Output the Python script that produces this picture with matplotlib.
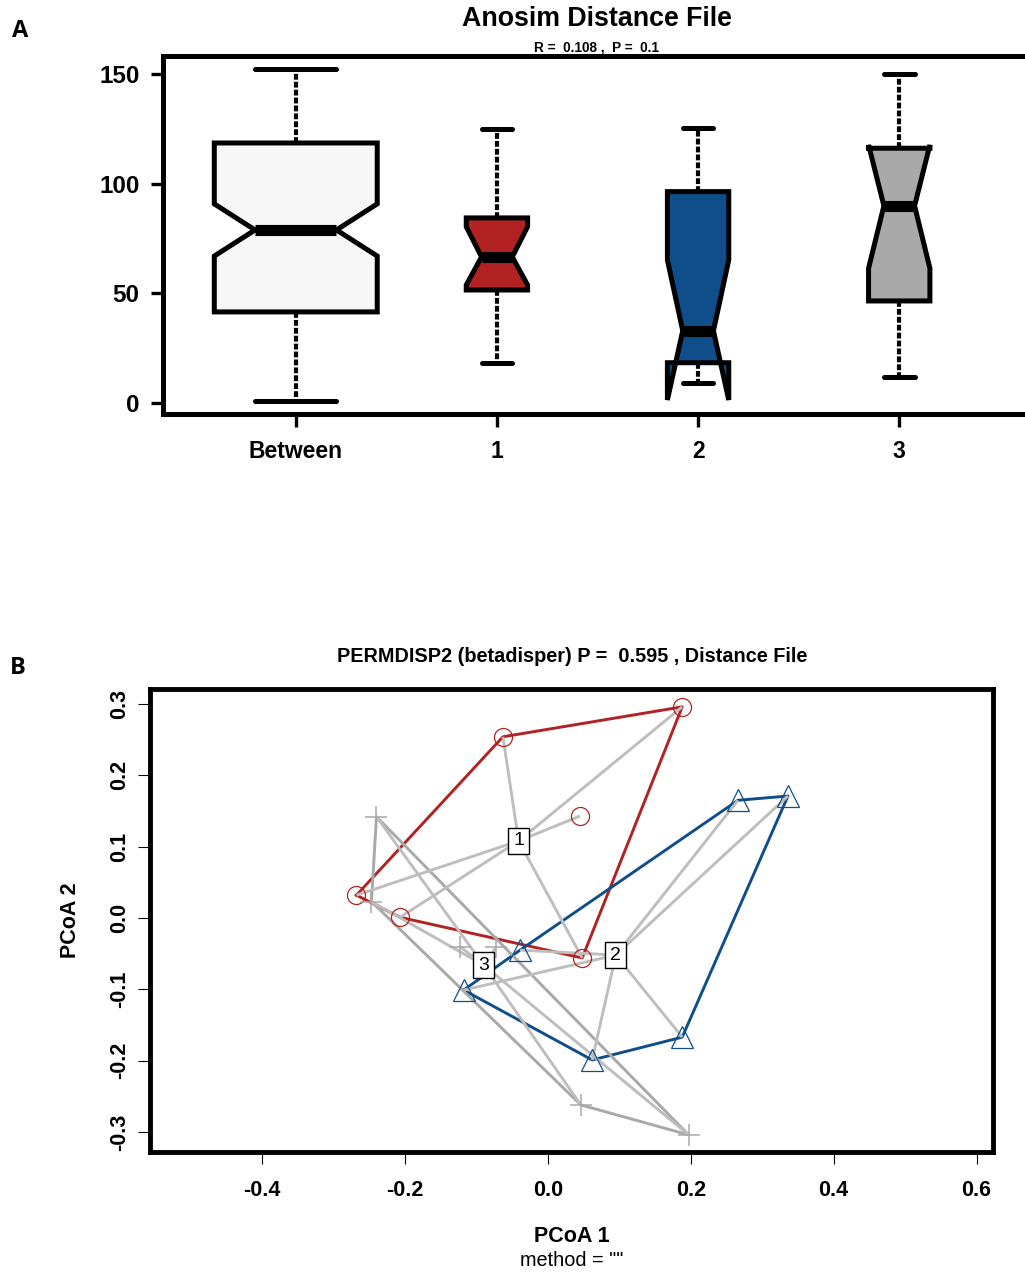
import numpy as np
import matplotlib
matplotlib.use("Agg")
import matplotlib.pyplot as plt

plt.rcParams['font.family'] = ['Liberation Sans', 'DejaVu Sans']

# ---------------- Panel A data (ANOSIM boxplot) ----------------
box_labels = ["Between", "1", "2", "3"]
box_whislo = [1.0, 18.3, 9.1, 12.0]
box_q1 = [41.6, 51.6, 18.4, 46.6]
box_med = [79.0, 66.7, 33.0, 90.0]
box_q3 = [118.7, 84.5, 96.5, 116.3]
box_whishi = [152.5, 125.1, 125.7, 150.1]
box_cilo = [67.1, 53.9, 1.4, 61.5]
box_cihi = [90.9, 80.5, 65.3, 117.8]
box_widths = [0.81, 0.305, 0.305, 0.305]
box_colors = ["#F7F7F7", "#B22222", "#104E8B", "#A9A9A9"]
anosim_R = "0.108"
anosim_P = "0.1"

# ---------------- Panel B data (PERMDISP2 / betadisper) ----------------
g1_x = [0.188, -0.063, 0.045, -0.268, -0.207, 0.048]
g1_y = [0.296, 0.254, 0.143, 0.032, 0.001, -0.056]
g2_x = [0.266, 0.336, -0.039, -0.118, 0.062, 0.188]
g2_y = [0.165, 0.171, -0.045, -0.101, -0.199, -0.167]
g3_x = [-0.240, -0.247, -0.123, -0.072, 0.046, 0.197]
g3_y = [0.142, 0.023, -0.040, -0.040, -0.262, -0.304]
cent_x = [-0.041, 0.095, -0.090]
cent_y = [0.108, -0.052, -0.066]
group_names = ["1", "2", "3"]
group_colors = ["#B22222", "#104E8B", "#A9A9A9"]
group_markers = ["o", "^", "+"]
seg_color = "#BEBEBE"
permdisp_P = "0.595"
x_ticks_b = [-0.4, -0.2, 0.0, 0.2, 0.4, 0.6]
y_ticks_b = [-0.3, -0.2, -0.1, 0.0, 0.1, 0.2, 0.3]

W, H = 1025, 1272
fig = plt.figure(figsize=(W / 100, H / 100), dpi=100)


def fx(px):
    return px / W


def fy(py):
    return 1 - py / H


# ======================= Panel A =======================
axA = fig.add_axes([fx(163), fy(414), (1032 - 163) / W, (414 - 56) / H])
stats = []
for i in range(len(box_labels)):
    stats.append(dict(label=box_labels[i], whislo=box_whislo[i], q1=box_q1[i],
                      med=box_med[i], q3=box_q3[i], whishi=box_whishi[i],
                      cilo=box_cilo[i], cihi=box_cihi[i], fliers=[]))
positions = np.arange(1, len(box_labels) + 1)
bp = axA.bxp(stats, positions=positions, widths=box_widths, shownotches=True,
             patch_artist=True, showfliers=False,
             boxprops=dict(linewidth=3.6, edgecolor="black", joinstyle="miter"),
             whiskerprops=dict(linewidth=3.0, color="black", linestyle=(0, (1.4, 0.5))),
             capprops=dict(linewidth=3.6, color="black", solid_capstyle="round"),
             medianprops=dict(linewidth=8, color="black", solid_capstyle="butt"))
for patch, c in zip(bp["boxes"], box_colors):
    patch.set_facecolor(c)

axA.set_xlim(0.34, 4.66)
axA.set_ylim(-5.0, 158.4)
axA.set_yticks([0, 50, 100, 150])
axA.set_xticks(positions)
axA.set_xticklabels(box_labels)
for s in axA.spines.values():
    s.set_linewidth(3.6)
axA.tick_params(axis="y", length=9, width=2.4, pad=8, labelsize=17.5)
axA.tick_params(axis="x", length=9, width=2.4, pad=10, labelsize=16.5)
for lab in axA.get_xticklabels() + axA.get_yticklabels():
    lab.set_fontweight("bold")

fig.text(fx(597), fy(19), "Anosim Distance File", ha="center", va="center",
         fontsize=19.3, fontweight="bold")
fig.text(fx(597), fy(48), "R =  " + anosim_R + " ,  P =  " + anosim_P,
         ha="center", va="center", fontsize=9.8, fontweight="bold")
fig.text(fx(20), fy(31), "A", ha="center", va="center", fontsize=17,
         fontweight="bold", family=["Open Sans", "DejaVu Sans"])

# ======================= Panel B =======================
axB = fig.add_axes([fx(150), fy(1152), (993 - 150) / W, (1152 - 689) / H])
axB.set_xlim(-0.557, 0.623)
axB.set_ylim(-0.328, 0.321)


def convex_hull(xs, ys):
    pts = sorted(set(zip(xs, ys)))

    def cross(o, a, b):
        return (a[0] - o[0]) * (b[1] - o[1]) - (a[1] - o[1]) * (b[0] - o[0])
    lower, upper = [], []
    for p in pts:
        while len(lower) >= 2 and cross(lower[-2], lower[-1], p) <= 0:
            lower.pop()
        lower.append(p)
    for p in reversed(pts):
        while len(upper) >= 2 and cross(upper[-2], upper[-1], p) <= 0:
            upper.pop()
        upper.append(p)
    hull = lower[:-1] + upper[:-1]
    hull.append(hull[0])
    return [p[0] for p in hull], [p[1] for p in hull]


groups = [(g1_x, g1_y), (g2_x, g2_y), (g3_x, g3_y)]

# hulls
for gi, (gx, gy) in enumerate(groups):
    hx, hy = convex_hull(gx, gy)
    axB.plot(hx, hy, color=group_colors[gi], lw=2.1, zorder=2,
             solid_joinstyle="round")
# segments to centroids
for gi, (gx, gy) in enumerate(groups):
    for xx, yy in zip(gx, gy):
        axB.plot([xx, cent_x[gi]], [yy, cent_y[gi]], color=seg_color, lw=2.1,
                 zorder=2.5, solid_capstyle="butt")
# points
msizes = [13, 15.5, 16.5]
for gi, (gx, gy) in enumerate(groups):
    if group_markers[gi] == "+":
        axB.plot(gx, gy, linestyle="none", marker="+", ms=msizes[gi],
                 mew=1.1, color=group_colors[gi], zorder=4)
    else:
        axB.plot(gx, gy, linestyle="none", marker=group_markers[gi],
                 ms=msizes[gi], mew=0.9, mfc="none",
                 mec=group_colors[gi], zorder=4)
# centroid labels
for gi in range(3):
    axB.text(cent_x[gi], cent_y[gi], group_names[gi], ha="center", va="center",
             fontsize=14, zorder=5,
             bbox=dict(boxstyle="square,pad=0.25", fc="white", ec="black", lw=1.0))

axB.set_xticks(x_ticks_b)
axB.set_xticklabels([f"{v:.1f}" for v in x_ticks_b])
axB.set_yticks(y_ticks_b)
axB.set_yticklabels([f"{v:.1f}" for v in y_ticks_b])
for s in axB.spines.values():
    s.set_linewidth(3.5)
axB.tick_params(axis="x", length=8.5, width=0.8, pad=12, labelsize=15.5)
axB.tick_params(axis="y", length=8.5, width=0.8, pad=6, labelsize=15.5)
for lab in axB.get_xticklabels():
    lab.set_fontweight("bold")
for lab in axB.get_yticklabels():
    lab.set_fontweight("bold")
    lab.set_rotation(90)
    lab.set_va("center")
    lab.set_ha("right")

fig.text(fx(572), fy(656),
         "PERMDISP2 (betadisper) P =  " + permdisp_P + " , Distance File",
         ha="center", va="center", fontsize=14.3, fontweight="bold")
fig.text(fx(572), fy(1237), "PCoA 1", ha="center", va="center",
         fontsize=15.5, fontweight="bold")
fig.text(fx(572), fy(1261), 'method = ""', ha="center", va="center",
         fontsize=14.3)
fig.text(fx(71), fy(920), "PCoA 2", ha="center", va="center", rotation=90,
         fontsize=15.5, fontweight="bold")
fig.text(fx(18), fy(668), "B", ha="center", va="center", fontsize=17,
         fontweight="bold", family=["Open Sans", "DejaVu Sans"])

fig.savefig("out.png", dpi=100)
